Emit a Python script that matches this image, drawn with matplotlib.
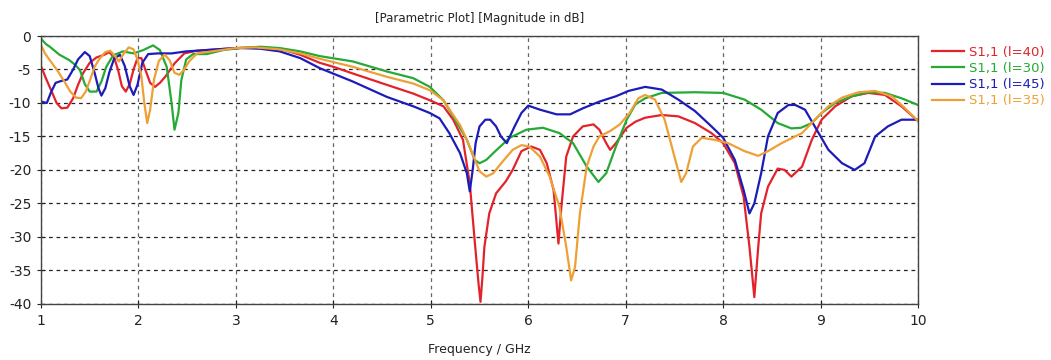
import matplotlib
matplotlib.use("Agg")
import matplotlib.pyplot as plt

# ---- data ----
f_red = [1.00, 1.05, 1.11, 1.16, 1.21, 1.27, 1.33, 1.38, 1.43, 1.50, 1.57, 1.65, 1.70, 1.75, 1.79, 1.83, 1.87,
         1.91, 1.95, 1.99, 2.03, 2.07, 2.12, 2.17, 2.22, 2.28, 2.37, 2.47, 2.60, 2.80, 3.00, 3.20, 3.45, 3.66,
         3.86, 4.00, 4.20, 4.55, 4.82, 4.99, 5.13, 5.23, 5.33, 5.40, 5.45, 5.49, 5.51, 5.53, 5.55, 5.60, 5.67,
         5.77, 5.84, 5.93, 6.03, 6.12, 6.19, 6.26, 6.31, 6.34, 6.39, 6.46, 6.56, 6.67, 6.73, 6.80, 6.84, 6.90,
         7.01, 7.10, 7.20, 7.37, 7.54, 7.71, 7.88, 8.00, 8.12, 8.21, 8.27, 8.32, 8.36, 8.39, 8.46, 8.56, 8.63,
         8.70, 8.81, 8.91, 9.01, 9.15, 9.32, 9.49, 9.66, 9.83, 10.0]
s_red = [-4.5, -6.3, -8.3, -10.0, -10.8, -10.7, -9.3, -7.3, -5.6, -4.0, -3.2, -2.8, -2.4, -3.2, -5.0, -7.5, -8.3,
         -7.2, -5.0, -3.3, -3.3, -5.0, -7.0, -7.6, -7.0, -6.0, -4.1, -2.6, -2.2, -2.0, -1.8, -1.7, -1.9, -2.8,
         -4.0, -4.6, -5.6, -7.3, -8.6, -9.6, -10.5, -12.5, -15.5, -22.0, -30.5, -37.0, -39.7, -36.0, -31.5, -26.5, -23.5,
         -21.7, -20.0, -17.2, -16.5, -17.0, -19.0, -23.0, -31.0, -25.5, -18.0, -15.0, -13.5, -13.2, -14.0, -16.0, -17.0, -16.0,
         -13.7, -12.8, -12.2, -11.8, -12.0, -13.0, -14.5, -16.0, -19.0, -24.0, -31.5, -39.0, -31.5, -26.5, -22.5, -19.8, -20.0,
         -21.0, -19.5, -15.5, -12.5, -10.5, -9.0, -8.5, -8.8, -10.5, -12.7]

f_green = [1.00, 1.05, 1.09, 1.14, 1.19, 1.29, 1.35, 1.40, 1.45, 1.50, 1.57, 1.62, 1.67, 1.74, 1.84, 1.95, 2.05,
           2.15, 2.22, 2.29, 2.34, 2.37, 2.41, 2.44, 2.49, 2.56, 2.70, 2.87, 3.04, 3.25, 3.45, 3.66, 3.86, 4.20,
           4.55, 4.82, 4.99, 5.13, 5.23, 5.37, 5.45, 5.50, 5.57, 5.64, 5.81, 5.98, 6.15, 6.32, 6.46, 6.60, 6.72,
           6.80, 6.90, 7.01, 7.10, 7.20, 7.37, 7.71, 8.00, 8.22, 8.39, 8.56, 8.70, 8.80, 8.91, 9.01, 9.15, 9.32,
           9.49, 9.66, 9.83, 10.0]
s_green = [-0.4, -1.2, -1.6, -2.2, -2.8, -3.6, -4.3, -5.1, -7.2, -8.3, -8.3, -6.8, -4.6, -2.9, -2.3, -2.6, -2.1,
           -1.4, -2.1, -4.6, -10.0, -14.0, -11.5, -6.6, -3.5, -2.7, -2.7, -2.1, -1.8, -1.6, -1.8, -2.3, -3.0, -3.8,
           -5.3, -6.3, -7.6, -9.6, -12.0, -15.5, -18.5, -19.0, -18.5, -17.5, -15.2, -14.0, -13.7, -14.5, -16.0, -19.5, -21.8,
           -20.5, -16.5, -12.5, -10.2, -9.3, -8.5, -8.4, -8.5, -9.5, -11.0, -13.0, -13.8, -13.7, -13.0, -11.5, -10.0, -9.0,
           -8.4, -8.5, -9.3, -10.3]

f_blue = [1.00, 1.06, 1.10, 1.15, 1.21, 1.27, 1.33, 1.38, 1.45, 1.50, 1.55, 1.59, 1.62, 1.66, 1.70, 1.75, 1.81,
          1.86, 1.91, 1.95, 1.99, 2.04, 2.10, 2.20, 2.34, 2.49, 2.70, 2.90, 3.05, 3.25, 3.45, 3.66, 3.86, 4.20,
          4.55, 4.82, 4.99, 5.09, 5.19, 5.30, 5.37, 5.40, 5.43, 5.46, 5.50, 5.56, 5.61, 5.67, 5.72, 5.78, 5.86,
          5.93, 6.00, 6.12, 6.29, 6.43, 6.56, 6.73, 6.90, 7.03, 7.20, 7.37, 7.54, 7.71, 7.88, 8.00, 8.12, 8.21,
          8.27, 8.32, 8.39, 8.46, 8.56, 8.67, 8.74, 8.84, 8.94, 9.08, 9.22, 9.35, 9.45, 9.56, 9.69, 9.83, 10.0]
s_blue = [-9.8, -10.0, -8.5, -7.0, -6.7, -6.5, -5.0, -3.5, -2.4, -3.0, -5.5, -7.8, -8.9, -7.8, -5.5, -3.4, -2.8,
          -4.5, -7.5, -8.8, -7.3, -4.0, -2.7, -2.6, -2.6, -2.3, -2.1, -1.9, -1.8, -1.9, -2.3, -3.3, -4.8, -6.8,
          -9.1, -10.5, -11.5, -12.3, -14.5, -17.5, -20.5, -23.2, -20.0, -16.0, -13.5, -12.5, -12.5, -13.5, -15.0, -16.0, -13.5,
          -11.5, -10.4, -11.0, -11.7, -11.7, -10.8, -9.8, -9.0, -8.2, -7.6, -8.0, -9.5, -11.2, -13.5, -15.2, -18.5, -23.0,
          -26.5, -25.0, -20.5, -15.0, -11.5, -10.3, -10.3, -11.0, -13.5, -17.0, -19.0, -20.0, -19.0, -15.0, -13.5, -12.5, -12.5]

f_orange = [1.00, 1.04, 1.09, 1.17, 1.24, 1.30, 1.36, 1.41, 1.46, 1.51, 1.55, 1.60, 1.66, 1.71, 1.76, 1.80, 1.85,
            1.90, 1.95, 1.99, 2.03, 2.06, 2.09, 2.12, 2.16, 2.21, 2.27, 2.32, 2.37, 2.42, 2.47, 2.52, 2.60, 2.75,
            3.00, 3.20, 3.45, 3.66, 3.86, 4.20, 4.55, 4.82, 4.99, 5.13, 5.23, 5.30, 5.37, 5.44, 5.50, 5.57, 5.64,
            5.74, 5.84, 5.93, 6.01, 6.12, 6.22, 6.32, 6.39, 6.44, 6.48, 6.53, 6.60, 6.67, 6.73, 6.84, 6.94, 7.04,
            7.13, 7.20, 7.30, 7.40, 7.50, 7.57, 7.62, 7.69, 7.78, 7.91, 8.05, 8.22, 8.36, 8.46, 8.60, 8.81, 8.94,
            9.08, 9.22, 9.39, 9.56, 9.73, 9.86, 10.0]
s_orange = [-1.3, -2.6, -3.6, -5.2, -6.8, -8.3, -9.2, -9.3, -8.3, -6.3, -4.6, -3.4, -2.4, -2.2, -3.0, -3.8, -2.6,
            -1.7, -2.0, -3.5, -6.0, -10.0, -13.0, -11.0, -6.5, -3.7, -2.8, -3.6, -5.5, -5.8, -5.0, -3.8, -2.6, -2.3,
            -1.8, -1.7, -2.0, -2.6, -3.4, -4.6, -6.1, -7.1, -8.1, -9.6, -11.8, -13.3, -15.5, -18.0, -20.2, -21.0, -20.5,
            -18.7, -17.0, -16.3, -16.5, -18.0, -21.0, -25.5, -31.5, -36.5, -34.5, -26.5, -19.5, -16.5, -15.0, -14.2, -13.2, -11.5,
            -9.3, -8.8, -9.5, -12.5, -18.0, -21.8, -20.5, -16.5, -15.2, -15.5, -16.0, -17.2, -17.9, -17.2, -16.0, -14.5, -12.5,
            -10.5, -9.2, -8.4, -8.2, -9.0, -10.7, -12.7]

labels = ["S1,1 (l=40)", "S1,1 (l=30)", "S1,1 (l=45)", "S1,1 (l=35)"]
colors = ["#e3232b", "#27a935", "#1c1cb8", "#eea036"]
x_ticks = [1, 2, 3, 4, 5, 6, 7, 8, 9, 10]
y_ticks = [0, -5, -10, -15, -20, -25, -30, -35, -40]

plt.rcParams['font.family'] = ['DejaVu Sans']
fig = plt.figure(figsize=(10.51, 3.60), dpi=100)
ax = fig.add_axes([0.039, 0.156, 0.8345, 0.744])

series = [(f_red, s_red), (f_green, s_green), (f_blue, s_blue), (f_orange, s_orange)]
lines = []
for (fx, sy), c, lab in zip(series, colors, labels):
    ln, = ax.plot(fx, sy, color=c, lw=1.6, label=lab, solid_joinstyle='round')
    lines.append(ln)

ax.set_xlim(1, 10)
ax.set_ylim(-40, 0)
ax.set_xticks(x_ticks)
ax.set_yticks(y_ticks)
ax.set_xticklabels([str(v) for v in x_ticks])
ax.set_yticklabels([str(v) for v in y_ticks])
ax.tick_params(direction='inout', length=6, width=0.8, labelsize=10, colors='#222222', pad=4)
ax.yaxis.grid(True, color='#222222', linestyle=(0, (3, 3)), lw=0.9)
ax.xaxis.grid(True, color='#666666', linestyle=(0, (3, 3)), lw=0.9)
ax.set_axisbelow(True)
for sp in ax.spines.values():
    sp.set_color('#444444')
    sp.set_linewidth(1.0)

ax.set_title("[Parametric Plot] [Magnitude in dB]", fontsize=8.5, color='#222222', pad=10)
ax.set_xlabel("Frequency / GHz", fontsize=9, color='#222222', labelpad=11)

leg = fig.legend(handles=lines, labels=labels, loc='upper left', bbox_to_anchor=(0.882, 0.888),
                 frameon=False, fontsize=9.5, handlelength=2.4, handletextpad=0.4, labelspacing=0.25,
                 borderaxespad=0)
for t, c in zip(leg.get_texts(), colors):
    t.set_color(c)

fig.savefig("out.png", dpi=100)
